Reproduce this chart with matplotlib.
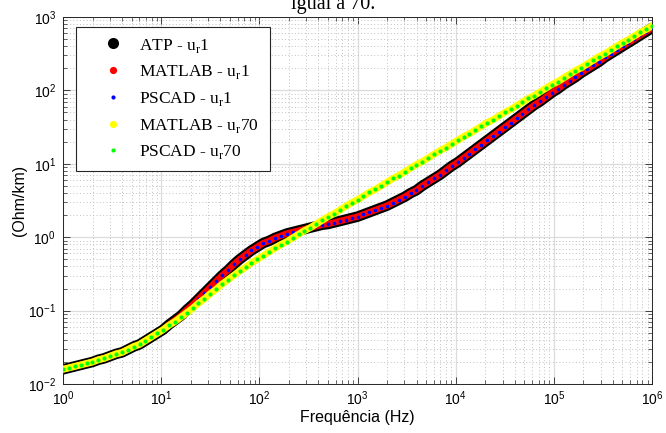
import numpy as np
import matplotlib
matplotlib.use("Agg")
import matplotlib.pyplot as plt
from matplotlib.lines import Line2D

plt.rcParams['font.family'] = ['Liberation Sans', 'DejaVu Sans']

# frequency grid (Hz), 101 log-spaced samples from 1 Hz to 1 MHz
freq = np.logspace(0, 6, 101)

# log10 of impedance (Ohm/km), u_r = 1 (ATP / MATLAB / PSCAD overlap)
ur1_log10 = [
    -1.80, -1.78, -1.76, -1.74, -1.72, -1.70, -1.67, -1.65, -1.62, -1.59,
    -1.57, -1.53, -1.49, -1.46, -1.41, -1.36, -1.31, -1.26, -1.19, -1.13,
    -1.07, -0.99, -0.92, -0.84, -0.76, -0.68, -0.60, -0.52, -0.45, -0.37,
    -0.30, -0.24, -0.18, -0.13, -0.08, -0.05, -0.01, 0.02, 0.05, 0.07,
    0.09, 0.11, 0.13, 0.15, 0.17, 0.18, 0.20, 0.22, 0.24, 0.26,
    0.28, 0.31, 0.34, 0.37, 0.40, 0.43, 0.47, 0.51, 0.55, 0.60,
    0.64, 0.70, 0.75, 0.80, 0.85, 0.91, 0.97, 1.02, 1.08, 1.14,
    1.20, 1.26, 1.32, 1.38, 1.44, 1.50, 1.56, 1.62, 1.68, 1.74,
    1.80, 1.85, 1.91, 1.97, 2.02, 2.08, 2.13, 2.18, 2.24, 2.29,
    2.34, 2.39, 2.45, 2.50, 2.55, 2.60, 2.65, 2.70, 2.75, 2.80,
    2.85,
]

# log10 of impedance (Ohm/km), u_r = 70 (MATLAB / PSCAD overlap)
ur70_log10 = [
    -1.80, -1.78, -1.76, -1.74, -1.72, -1.70, -1.67, -1.65, -1.62, -1.59,
    -1.57, -1.53, -1.49, -1.46, -1.41, -1.36, -1.31, -1.26, -1.20, -1.15,
    -1.09, -1.03, -0.97, -0.90, -0.84, -0.77, -0.71, -0.64, -0.58, -0.52,
    -0.46, -0.41, -0.35, -0.30, -0.25, -0.20, -0.15, -0.10, -0.06, -0.01,
    0.04, 0.09, 0.13, 0.18, 0.23, 0.28, 0.32, 0.37, 0.42, 0.47,
    0.51, 0.56, 0.61, 0.65, 0.70, 0.75, 0.80, 0.84, 0.89, 0.94,
    0.99, 1.03, 1.08, 1.13, 1.18, 1.22, 1.27, 1.32, 1.37, 1.41,
    1.46, 1.51, 1.56, 1.60, 1.65, 1.70, 1.74, 1.79, 1.84, 1.89,
    1.93, 1.98, 2.03, 2.08, 2.12, 2.17, 2.22, 2.27, 2.31, 2.36,
    2.41, 2.46, 2.50, 2.55, 2.60, 2.65, 2.69, 2.74, 2.79, 2.83,
    2.88,
]

labels = [r'ATP - u$_\mathdefault{r}$1', r'MATLAB - u$_\mathdefault{r}$1',
          r'PSCAD - u$_\mathdefault{r}$1', r'MATLAB - u$_\mathdefault{r}$70',
          r'PSCAD - u$_\mathdefault{r}$70']

z1 = 10.0 ** np.array(ur1_log10)
z70 = 10.0 ** np.array(ur70_log10)

W, H = 666, 433
fig = plt.figure(figsize=(W / 100, H / 100), dpi=100)
ax = fig.add_axes([63 / W, 1 - 384 / H, (652 - 63) / W, (384 - 17) / H])

ax.set_xscale('log')
ax.set_yscale('log')
ax.set_xlim(1, 1e6)
ax.set_ylim(1e-2, 1e3)

ax.set_axisbelow(True)
ax.grid(True, which='major', color='#dcdcdc', lw=0.9, ls='-')
ax.grid(True, which='minor', color='#c0c0c0', lw=0.7, ls=(0, (1, 2.4)))

# ATP u_r=1 : dense black markers -> thick band
ax.plot(freq, z1, color='black', lw=7.6, solid_capstyle='round',
        solid_joinstyle='round', zorder=2)
# MATLAB u_r=1 : red band
ax.plot(freq, z1, color='red', lw=4.6, solid_capstyle='round',
        solid_joinstyle='round', zorder=3)
# PSCAD u_r=1 : blue dots
ax.plot(freq, z1, ls='none', marker='o', ms=2.6, mew=0, color='blue', zorder=4)
# MATLAB u_r=70 : yellow band
ax.plot(freq, z70, color='yellow', lw=5.0, solid_capstyle='round',
        solid_joinstyle='round', zorder=5)
# PSCAD u_r=70 : green dots
ax.plot(freq, z70, ls='none', marker='o', ms=3.0, mew=0, color='#00ff00', zorder=6)

ax.tick_params(which='both', direction='in', top=True, right=True,
               colors='#262626', labelcolor='black', labelsize=10)
ax.tick_params(which='major', length=5, width=0.6)
ax.tick_params(which='minor', length=2.6, width=0.5)
ax.tick_params(axis='y', pad=5)
ax.tick_params(axis='x', pad=4)
for s in ax.spines.values():
    s.set_linewidth(0.7)
    s.set_color('#262626')

ax.set_xlabel('Frequência (Hz)', fontsize=11.5, labelpad=1)
ax.set_ylabel('(Ohm/km)', fontsize=11.5, labelpad=1)

handles = [
    Line2D([], [], ls='none', marker='o', ms=8.0, mew=0, color='black'),
    Line2D([], [], ls='none', marker='o', ms=5.2, mew=0, color='red'),
    Line2D([], [], ls='none', marker='o', ms=3.0, mew=0, color='blue'),
    Line2D([], [], ls='none', marker='o', ms=5.2, mew=0, color='yellow'),
    Line2D([], [], ls='none', marker='o', ms=3.0, mew=0, color='#00ff00'),
]
leg = fig.legend(handles, labels, loc='upper left',
                 bbox_to_anchor=(76 / W, 1 - 168 / H, 194 / W, 141 / H),
                 bbox_transform=fig.transFigure, mode='expand', borderaxespad=0,
                 prop={'family': 'Liberation Serif', 'size': 12.5},
                 frameon=True, fancybox=False, framealpha=1, edgecolor='#262626',
                 borderpad=0.55, handlelength=3.2, handletextpad=-0.1,
                 labelspacing=0.5)
leg.get_frame().set_linewidth(0.8)

fig.text(0.5, 1 - 9 / H, 'igual a 70.', ha='center', va='baseline',
         family='Liberation Serif', fontsize=14.5)

fig.savefig('out.png', dpi=100)
